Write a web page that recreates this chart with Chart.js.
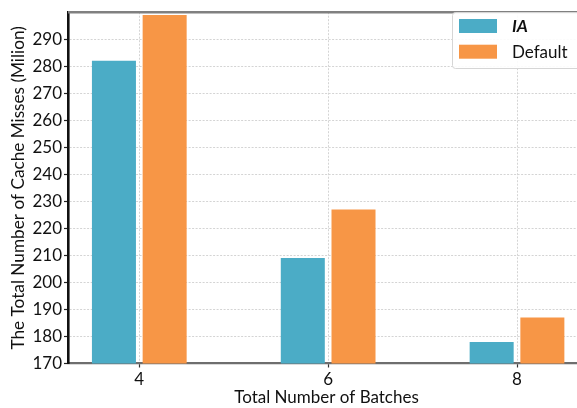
<!DOCTYPE html>
<html>
<head>
<meta charset="utf-8">
<script src="https://cdn.jsdelivr.net/npm/chart.js@4.4.1/dist/chart.umd.min.js"></script>
<style>
  html, body { margin: 0; padding: 0; background: #fff; overflow: hidden; }
  #wrap { position: relative; width: 600px; height: 408px; }
</style>
</head>
<body>
<div id="wrap"><canvas id="c" width="600" height="408"></canvas></div>
<script>
// Total number of batches (x positions of each group)
const batches = [4, 6, 8];
// Cache misses in millions
const iaMisses = [282, 209, 178];
const defaultMisses = [299, 227, 187];
// Y axis tick labels
const yTicks = [170, 180, 190, 200, 210, 220, 230, 240, 250, 260, 270, 280, 290];

const FONT = 'Lato, "Open Sans", sans-serif';
const BLUE = '#4bacc6';
const ORANGE = '#f79646';

// Frame line along the top of the plot area plus an inset legend box
const framePlugin = {
  id: 'frame',
  afterDatasetsDraw(chart) {
    const { ctx, chartArea } = chart;
    ctx.save();
    ctx.strokeStyle = '#808080';
    ctx.lineWidth = 2.4;
    ctx.beginPath();
    ctx.moveTo(chartArea.left, chartArea.top);
    ctx.lineTo(chartArea.right, chartArea.top);
    ctx.stroke();
    ctx.restore();
  },
  afterDraw(chart) {
    const { ctx } = chart;
    const x = 452.5, y = 12.5, w = 140, h = 56, r = 3;
    ctx.save();
    ctx.fillStyle = 'rgba(255,255,255,0.9)';
    ctx.strokeStyle = '#d6d6d6';
    ctx.lineWidth = 1;
    ctx.beginPath();
    ctx.moveTo(x + r, y);
    ctx.lineTo(x + w - r, y);
    ctx.arcTo(x + w, y, x + w, y + r, r);
    ctx.lineTo(x + w, y + h - r);
    ctx.arcTo(x + w, y + h, x + w - r, y + h, r);
    ctx.lineTo(x + r, y + h);
    ctx.arcTo(x, y + h, x, y + h - r, r);
    ctx.lineTo(x, y + r);
    ctx.arcTo(x, y, x + r, y, r);
    ctx.closePath();
    ctx.fill();
    ctx.stroke();
    chart.data.datasets.forEach((ds, i) => {
      const rowY = 19 + i * 25.7;
      ctx.fillStyle = ds.backgroundColor;
      ctx.fillRect(459, rowY, 38, 14);
      ctx.fillStyle = '#111';
      ctx.textBaseline = 'middle';
      ctx.textAlign = 'left';
      ctx.font = (i === 0 ? 'italic bold ' : '') + '17px ' + FONT;
      ctx.fillText(ds.label, 512, rowY + 8);
    });
    ctx.restore();
  }
};

const toPoints = vals => vals.map((v, i) => ({ x: batches[i], y: v }));

const gridStyle = {
  color: '#d4d4d4',
  lineWidth: 1,
  offset: false,
  tickLength: 4,
  tickBorderDash: [],
  tickWidth: 1.2
};

new Chart(document.getElementById('c'), {
  type: 'bar',
  data: {
    datasets: [
      { label: 'IA', data: toPoints(iaMisses), backgroundColor: BLUE },
      { label: 'Default', data: toPoints(defaultMisses), backgroundColor: ORANGE }
    ]
  },
  options: {
    responsive: false,
    animation: false,
    events: [],
    categoryPercentage: 0.537,
    barPercentage: 0.868,
    layout: { padding: { top: 3, right: 15, left: 0, bottom: 0 } },
    plugins: { legend: { display: false }, tooltip: { enabled: false } },
    scales: {
      x: {
        type: 'linear',
        offset: false,
        min: 3.245,
        max: 8.72,
        afterBuildTicks: s => { s.ticks = batches.map(v => ({ value: v })); },
        afterFit: s => { s.height = 44.5; },
        ticks: {
          color: '#111',
          font: { family: FONT, size: 17 },
          padding: 2,
          callback: v => String(v)
        },
        grid: Object.assign({}, gridStyle, { tickColor: '#333' }),
        border: { display: true, color: '#6e6e6e', width: 2.2, dash: [2, 1.5] },
        title: {
          display: true,
          text: 'Total Number of Batches',
          color: '#111',
          font: { family: FONT, size: 17 },
          padding: { top: -3, bottom: 0 }
        }
      },
      y: {
        min: 170,
        max: 300,
        afterBuildTicks: s => { s.ticks = yTicks.map(v => ({ value: v })); },
        afterFit: s => { s.width = 68; },
        ticks: {
          color: '#111',
          font: { family: FONT, size: 17 },
          padding: 2
        },
        grid: Object.assign({}, gridStyle, { tickColor: '#222' }),
        border: { display: true, color: '#111', width: 2.6, dash: [2, 1.5] },
        title: {
          display: true,
          text: 'The Total Number of Cache Misses (Milion)',
          color: '#111',
          font: { family: FONT, size: 17.2 },
          padding: { top: 8, bottom: 0 }
        }
      }
    }
  },
  plugins: [framePlugin]
});
</script>
</body>
</html>
